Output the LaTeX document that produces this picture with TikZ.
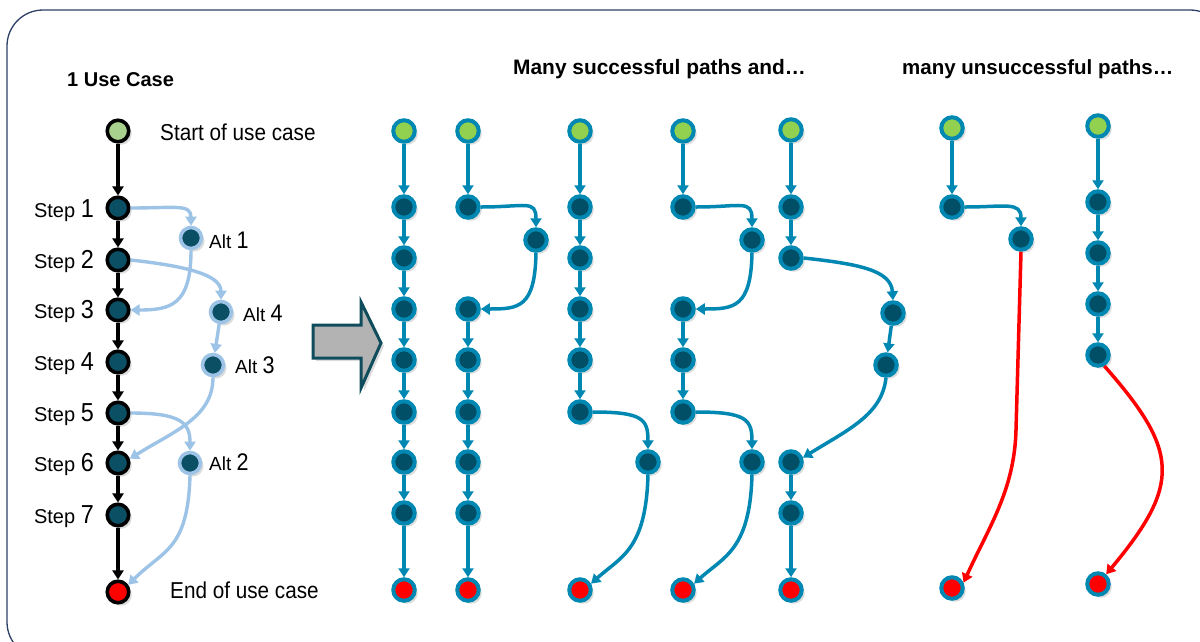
\documentclass[tikz,border=0pt]{standalone}
\usepackage{fontspec}
\setmainfont{Liberation Sans}
\newfontfamily\narrowsans{Liberation Sans}[FakeStretch=0.9]
\usetikzlibrary{arrows.meta,shadows}

\definecolor{framecol}{HTML}{2E3F66}
\definecolor{stepfill}{HTML}{0B4F64}
\definecolor{startgreen}{HTML}{A9D18E}
\definecolor{altblue}{HTML}{9DC3E6}
\definecolor{pathteal}{HTML}{0088B2}
\definecolor{pathfill}{HTML}{004F66}
\definecolor{pathgreen}{HTML}{92D050}
\definecolor{endred}{HTML}{FF0000}
\definecolor{bigarrowline}{HTML}{0F4C5C}
\definecolor{bigarrowfill}{HTML}{B3B3B3}

% label helpers: small word, larger number
\newcommand\steplbl[1]{\fontsize{20}{20}\selectfont Step {\narrowsans\fontsize{26}{26}\selectfont #1}}
\newcommand\altlbl[1]{\fontsize{19}{19}\selectfont Alt {\narrowsans\fontsize{24}{24}\selectfont #1}}

\begin{document}
\begin{tikzpicture}[x=1pt,y=-1pt,
  nshadow/.style={drop shadow={shadow xshift=3pt,shadow yshift=-3pt,fill=black!45,opacity=0.3}},
  usestep/.style={circle,draw=black,line width=3.6pt,fill=stepfill,minimum size=21.5pt,inner sep=0pt,nshadow},
  usestart/.style={usestep,fill=startgreen},
  useend/.style={usestep,fill=endred},
  altnode/.style={circle,draw=altblue,line width=3.6pt,fill=stepfill,minimum size=21pt,inner sep=0pt,nshadow},
  pnode/.style={circle,draw=pathteal,line width=4pt,fill=pathfill,minimum size=21.5pt,inner sep=0pt,nshadow},
  pstart/.style={pnode,fill=pathgreen},
  pend/.style={pnode,fill=endred},
  tip/.style={-{Triangle[length=9pt,width=11pt]}},
  flow/.style={draw=black,line width=3.4pt,tip},
  altflow/.style={draw=altblue,line width=3.4pt,tip},
  pflow/.style={draw=pathteal,line width=3.5pt,tip},
  failflow/.style={draw=endred,line width=3.5pt,tip},
  heading/.style={font=\bfseries\fontsize{20}{20}\selectfont,inner sep=0pt,anchor=base west},
  bigtext/.style={font=\narrowsans\fontsize{23}{23}\selectfont,inner sep=0pt,anchor=base west},
  lbl/.style={inner sep=0pt}
]
\useasboundingbox (0,0) rectangle (1200,641);
\clip (0,0) rectangle (1200,641);

% outer frame
\draw[framecol,line width=1.3pt,rounded corners=36pt] (7,10) rectangle (1226,658);

% headings
\node[heading] (h1) at (67,86) {1 Use Case};
\node[heading,font=\bfseries\fontsize{20.9}{21}\selectfont] (h2) at (513,74) {Many successful paths and…};
\node[heading,font=\bfseries\fontsize{20.5}{21}\selectfont] (h3) at (902,74) {many unsuccessful paths…};

% ---------- the use case with its alternatives ----------
\node[usestart] (s0) at (118,131) {};
\node[usestep] (s1) at (118,208) {};
\node[usestep] (s2) at (118,260) {};
\node[usestep] (s3) at (118,310) {};
\node[usestep] (s4) at (118,362) {};
\node[usestep] (s5) at (118,413) {};
\node[usestep] (s6) at (118,463) {};
\node[usestep] (s7) at (118,515) {};
\node[useend] (se) at (118,592) {};

\node[altnode] (a1) at (191,238) {};
\node[altnode] (a4) at (221,312) {};
\node[altnode] (a3) at (213,365) {};
\node[altnode] (a2) at (190,463) {};

\node[bigtext] (tstart) at (160,140) {Start of use case};
\node[bigtext] (tend) at (170,598) {End of use case};

\node[lbl,anchor=base east] (l1) at (94,217) {\steplbl{1}};
\node[lbl,anchor=base east] (l2) at (94,268) {\steplbl{2}};
\node[lbl,anchor=base east] (l3) at (94,318.5) {\steplbl{3}};
\node[lbl,anchor=base east] (l4) at (94,370) {\steplbl{4}};
\node[lbl,anchor=base east] (l5) at (94,421) {\steplbl{5}};
\node[lbl,anchor=base east] (l6) at (94,471.5) {\steplbl{6}};
\node[lbl,anchor=base east] (l7) at (94,523) {\steplbl{7}};

\node[lbl,anchor=base west] (la1) at (209,248) {\altlbl{1}};
\node[lbl,anchor=base west] (la4) at (243,321.5) {\altlbl{4}};
\node[lbl,anchor=base west] (la3) at (235,373) {\altlbl{3}};
\node[lbl,anchor=base west] (la2) at (209,470.5) {\altlbl{2}};

\foreach \a/\b in {s0/s1,s1/s2,s2/s3,s3/s4,s4/s5,s5/s6,s6/s7,s7/se}
  \draw[flow] (\a) -- (\b);

\draw[altflow] (s1.east) .. controls +(45,0) and +(0,-22) .. (a1.north);
\draw[altflow] (a1.south) .. controls +(0,55) and +(40,0) .. (s3.east);
\draw[altflow] (s2.east) .. controls +(55,6) and +(0,-25) .. (a4.north);
\draw[altflow] (a4) -- (a3);
\draw[altflow] (a3.south) .. controls +(0,40) and +(45,-28) .. (s6.20);
\draw[altflow] (s5.east) .. controls +(50,0) and +(0,-28) .. (a2.north);
\draw[altflow] (a2.south) .. controls +(-2,75) and +(35,-35) .. (se.35);

% ---------- big arrow ----------
\filldraw[draw=bigarrowline,fill=bigarrowfill,line width=3pt,line join=miter,nshadow]
  (313,325) -- (361,325) -- (361,302) -- (381,343) -- (361,388) -- (361,358) -- (313,358) -- cycle;

% ---------- path A ----------
\node[pstart] (A0) at (404,131) {};
\node[pnode] (A1) at (404,207) {};
\node[pnode] (A2) at (404,258) {};
\node[pnode] (A3) at (404,309) {};
\node[pnode] (A4) at (404,360) {};
\node[pnode] (A5) at (404,412) {};
\node[pnode] (A6) at (404,462) {};
\node[pnode] (A7) at (404,513) {};
\node[pend] (A8) at (404,590) {};
\foreach \a/\b in {A0/A1,A1/A2,A2/A3,A3/A4,A4/A5,A5/A6,A6/A7,A7/A8}
  \draw[pflow] (\a) -- (\b);

% ---------- path B ----------
\node[pstart] (B0) at (468,131) {};
\node[pnode] (B1) at (468,207) {};
\node[pnode] (Bx) at (536,240) {};
\node[pnode] (B3) at (468,309) {};
\node[pnode] (B4) at (468,360) {};
\node[pnode] (B5) at (468,412) {};
\node[pnode] (B6) at (468,462) {};
\node[pnode] (B7) at (468,513) {};
\node[pend] (B8) at (468,590) {};
\foreach \a/\b in {B0/B1,B3/B4,B4/B5,B5/B6,B6/B7,B7/B8}
  \draw[pflow] (\a) -- (\b);
\draw[pflow] (B1.east) .. controls +(45,0) and +(0,-28) .. (Bx.north);
\draw[pflow] (Bx.south) .. controls +(-1,55) and +(38,0) .. (B3.east);

% ---------- path C ----------
\node[pstart] (C0) at (580,131) {};
\node[pnode] (C1) at (580,207) {};
\node[pnode] (C2) at (580,258) {};
\node[pnode] (C3) at (580,309) {};
\node[pnode] (C4) at (580,360) {};
\node[pnode] (C5) at (580,412) {};
\node[pnode] (Cx) at (648,462) {};
\node[pend] (C8) at (580,590) {};
\foreach \a/\b in {C0/C1,C1/C2,C2/C3,C3/C4,C4/C5}
  \draw[pflow] (\a) -- (\b);
\draw[pflow] (C5.east) .. controls +(50,0) and +(0,-30) .. (Cx.north);
\draw[pflow] (Cx.south) .. controls +(-2,75) and +(30,-27) .. (C8.30);

% ---------- path D ----------
\node[pstart] (D0) at (683,131) {};
\node[pnode] (D1) at (683,207) {};
\node[pnode] (Dx) at (752,240) {};
\node[pnode] (D3) at (683,309) {};
\node[pnode] (D4) at (683,360) {};
\node[pnode] (D5) at (683,412) {};
\node[pnode] (Dy) at (752,462) {};
\node[pend] (D8) at (683,590) {};
\foreach \a/\b in {D0/D1,D3/D4,D4/D5}
  \draw[pflow] (\a) -- (\b);
\draw[pflow] (D1.east) .. controls +(45,0) and +(0,-28) .. (Dx.north);
\draw[pflow] (Dx.south) .. controls +(-1,55) and +(38,0) .. (D3.east);
\draw[pflow] (D5.east) .. controls +(50,0) and +(0,-30) .. (Dy.north);
\draw[pflow] (Dy.south) .. controls +(-2,75) and +(30,-27) .. (D8.30);

% ---------- path E ----------
\node[pstart] (E0) at (791,130) {};
\node[pnode] (E1) at (791,207) {};
\node[pnode] (E2) at (791,258) {};
\node[pnode] (Ex) at (893,313) {};
\node[pnode] (Ey) at (886,365) {};
\node[pnode] (E6) at (791,462) {};
\node[pnode] (E7) at (791,513) {};
\node[pend] (E8) at (791,590) {};
\foreach \a/\b in {E0/E1,E1/E2,Ex/Ey,E6/E7,E7/E8}
  \draw[pflow] (\a) -- (\b);
\draw[pflow] (E2.east) .. controls +(55,6) and +(-2,-30) .. (Ex.north);
\draw[pflow] (Ey.south) .. controls +(-4,37) and +(45,-28) .. (E6.20);

% ---------- path F (fails) ----------
\node[pstart] (F0) at (952,128) {};
\node[pnode] (F1) at (952,207) {};
\node[pnode] (Fx) at (1021,239) {};
\node[pend] (F8) at (952,588) {};
\coordinate (Fbend) at (1016,430);
\draw[pflow] (F0) -- (F1);
\draw[pflow] (F1.east) .. controls +(40,0) and +(0,-25) .. (Fx.north);
\draw[failflow] (Fx.south) -- (Fbend) .. controls +(-1.5,60) and +(25,-55) .. (F8.25);

% ---------- path G (fails) ----------
\node[pstart] (G0) at (1098,126) {};
\node[pnode] (G1) at (1098,202) {};
\node[pnode] (G2) at (1098,253) {};
\node[pnode] (G3) at (1098,304) {};
\node[pnode] (G4) at (1098,355) {};
\node[pend] (G8) at (1098,584) {};
\foreach \a/\b in {G0/G1,G1/G2,G2/G3,G3/G4}
  \draw[pflow] (\a) -- (\b);
\draw[failflow] (G4.-60) .. controls +(75,85) and +(75,-90) .. (G8.50);
\end{tikzpicture}
\end{document}
